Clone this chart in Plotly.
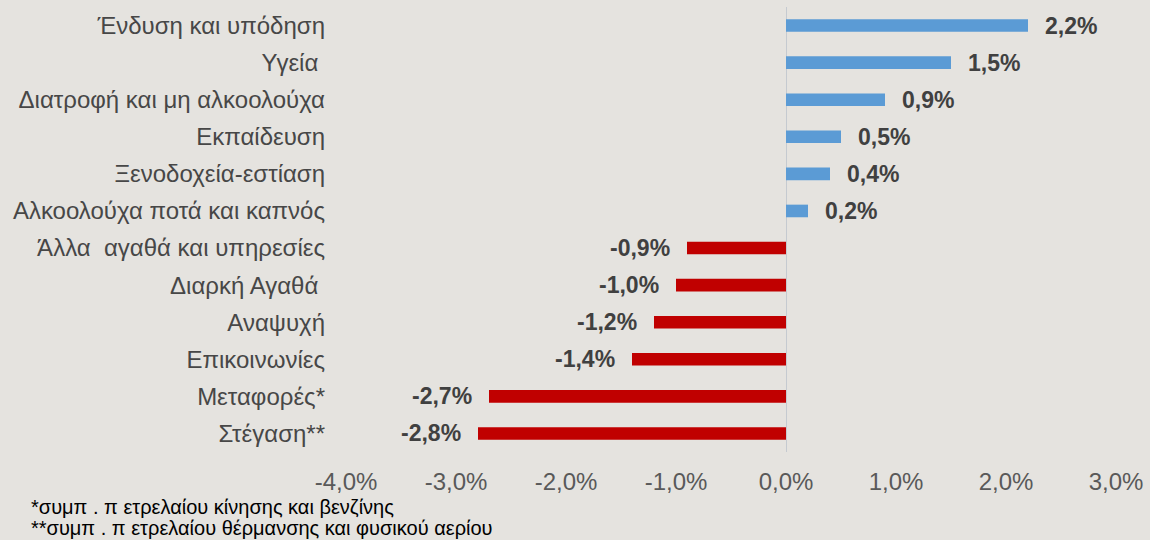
import plotly.graph_objects as go

categories = [
    "Ένδυση και υπόδηση",
    "Υγεία ",
    "Διατροφή και μη αλκοολούχα",
    "Εκπαίδευση",
    "Ξενοδοχεία-εστίαση",
    "Αλκοολούχα ποτά και καπνός",
    "Άλλα  αγαθά και υπηρεσίες",
    "Διαρκή Αγαθά ",
    "Αναψυχή",
    "Επικοινωνίες",
    "Μεταφορές*",
    "Στέγαση**",
]
values = [2.2, 1.5, 0.9, 0.5, 0.4, 0.2, -0.9, -1.0, -1.2, -1.4, -2.7, -2.8]
tick_values = [-4, -3, -2, -1, 0, 1, 2, 3]
tick_labels = ["-4,0%", "-3,0%", "-2,0%", "-1,0%", "0,0%", "1,0%", "2,0%", "3,0%"]
footnotes = [
    "*συμπ . π ετρελαίου κίνησης και βενζίνης",
    "**συμπ . π ετρελαίου θέρμανσης και φυσικού αερίου",
]

BLUE = "#5b9bd5"
RED = "#c00000"
BG = "#e5e3df"

colors = [BLUE if v >= 0 else RED for v in values]

ML, MR = 346, 29

fig = go.Figure()
fig.add_trace(go.Bar(
    x=values, y=categories, orientation="h",
    marker=dict(color=colors, line=dict(width=0)),
    width=0.34, hoverinfo="x+y",
))

for c, v in zip(categories, values):
    label = f"{v:.1f}%".replace(".", ",")
    fig.add_annotation(
        x=v, y=c, xref="x", yref="y", text=label, showarrow=False,
        xanchor="left" if v >= 0 else "right",
        xshift=15 if v >= 0 else -15,
        font=dict(family="Liberation Sans", size=23, color="#404040", weight="bold"),
    )

PLOT_W = 1150 - ML - MR
for i, t in enumerate(footnotes):
    fig.add_annotation(
        x=(27 - ML) / PLOT_W, y=0, xref="paper", yref="paper",
        text=t, showarrow=False, xanchor="left", yanchor="middle",
        yshift=-(507 - 452.5) - i * 21,
        font=dict(family="Liberation Sans", size=20, color="#000000"),
    )

fig.update_layout(
    width=1150, height=540,
    margin=dict(l=ML, r=MR, t=7, b=88),
    paper_bgcolor=BG, plot_bgcolor=BG,
    showlegend=False,
    font=dict(family="Liberation Sans", color="#404040"),
    xaxis=dict(
        range=[-4, 3], tickvals=tick_values, ticktext=tick_labels,
        showgrid=False, zeroline=True, zerolinecolor="#c5cad0", zerolinewidth=1.2,
        showline=False, ticks="", ticklabelstandoff=13,
        tickfont=dict(family="Liberation Sans", size=24, color="#595959"),
    ),
    yaxis=dict(
        autorange="reversed", showgrid=False, showline=False, ticks="",
        ticklabelstandoff=20,
        tickfont=dict(family="Liberation Sans", size=24, color="#474747"),
    ),
)

fig.write_html(
    "out.html",
    config={"displayModeBar": False},
    post_script="document.body.style.margin='0';document.body.style.overflow='hidden';",
)
